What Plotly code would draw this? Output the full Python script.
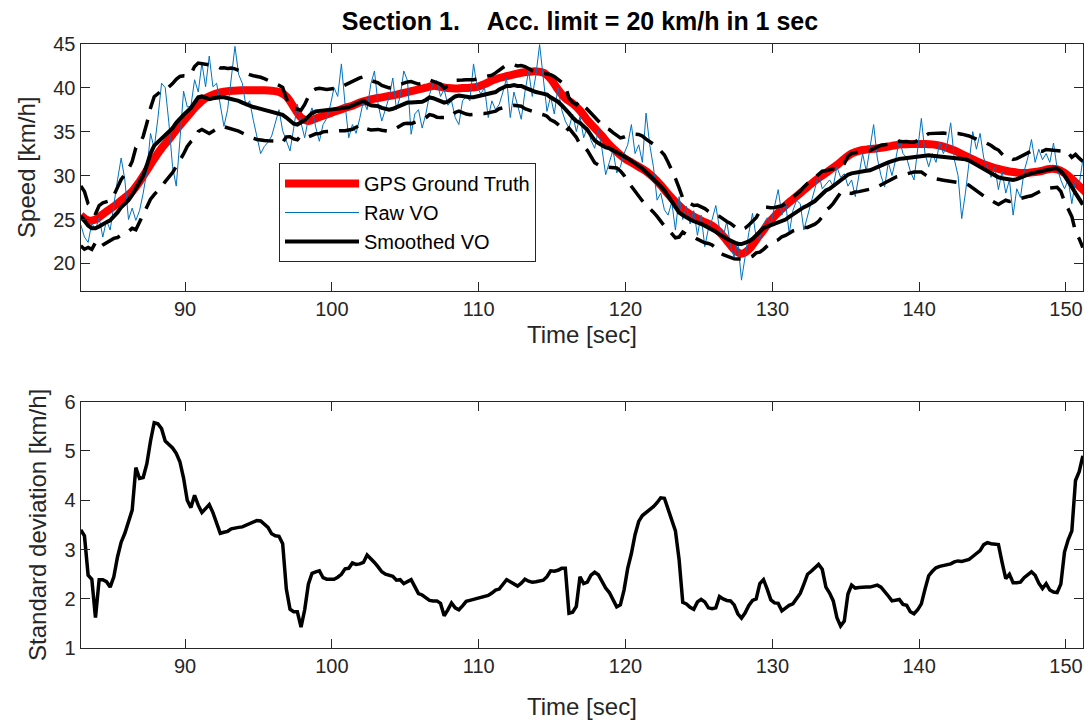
import numpy as np
import plotly.graph_objects as go

# ---- time bases -------------------------------------------------------------
T0 = 82.9
t_vo = np.round(T0 + 0.25 * np.arange(274), 3)     # VO samples (0.25 s)
t_gps = np.round(T0 + 0.5 * np.arange(138), 3)     # GPS samples (0.5 s)

# ---- GPS ground truth speed [km/h] -------------------------------------------
gps_speed = [
    25.5, 24.9, 25.0, 25.6, 26.2, 26.8, 27.5, 28.2, 29.3, 30.6,   # 82.9 ..
    31.9, 33.1, 34.1, 35.2, 36.2, 37.2, 38.1, 38.8, 39.2, 39.45,  # 87.9 ..
    39.6, 39.65, 39.7, 39.7, 39.7, 39.7, 39.65, 39.5, 39.0, 37.8, # 92.9 ..
    36.6, 36.2, 36.5, 36.8, 37.1, 37.4, 37.7, 37.95, 38.3, 38.55, # 97.9 ..
    38.75, 38.9, 39.05, 39.2, 39.4, 39.6, 39.8, 40.0, 40.2, 40.1, # 102.9 ..
    39.95, 39.9, 39.95, 40.0, 40.1, 40.4, 40.8, 41.1, 41.3, 41.5, # 107.9 ..
    41.7, 41.8, 41.85, 41.7, 41.0, 39.8, 38.8, 38.2, 37.4, 36.3,  # 112.9 ..
    35.4, 34.5, 33.5, 32.7, 32.0, 31.5, 31.0, 30.5, 29.8, 28.9,   # 117.9 ..
    27.9, 27.0, 26.2, 25.6, 25.1, 24.7, 24.3, 23.6, 22.6, 21.6,   # 122.9 ..
    21.1, 21.6, 22.7, 23.8, 24.9, 25.8, 26.6, 27.3, 28.0, 28.7,   # 127.9 ..
    29.4, 30.0, 30.6, 31.2, 31.9, 32.5, 32.8, 32.95, 33.05, 33.15,# 132.9 ..
    33.3, 33.45, 33.55, 33.6, 33.6, 33.6, 33.55, 33.4, 33.15, 32.85, # 137.9 ..
    32.45, 32.05, 31.65, 31.3, 31.0, 30.75, 30.55, 30.4, 30.3, 30.3, # 142.9 ..
    30.4, 30.55, 30.75, 30.7, 30.3, 29.6, 28.8, 28.0,             # 147.9 ..
]

# ---- raw visual-odometry speed [km/h] ----------------------------------------
raw_vo = [
    24.4, 23.0, 22.4, 24.6,   # 82.9
    23.8, 25.2, 23.0, 24.9,   # 83.9
    23.8, 26.8, 29.5, 32.0,   # 84.9
    29.5, 25.0, 26.3, 24.9,   # 85.9
    26.0, 28.0, 30.5, 34.8,   # 86.9
    33.1, 36.5, 40.5, 40.0,   # 87.9
    36.0, 31.0, 28.8, 34.0,   # 88.9
    39.6, 37.8, 37.9, 40.9,   # 89.9
    39.5, 42.8, 40.1, 43.6,   # 90.9
    40.1, 40.5, 38.0, 35.6,   # 91.9
    37.5, 41.0, 44.7, 41.5,   # 92.9
    40.5, 37.9, 38.5, 36.3,   # 93.9
    34.5, 32.5, 33.3, 33.8,   # 94.9
    34.5, 36.0, 37.5, 35.1,   # 95.9
    34.0, 32.8, 35.4, 38.1,   # 96.9
    36.0, 34.3, 36.5, 37.7,   # 97.9
    35.5, 33.9, 35.8, 36.5,   # 98.9
    38.0, 40.0, 39.0, 42.7,   # 99.9
    38.1, 34.3, 35.8, 34.8,   # 100.9
    36.5, 38.5, 37.5, 40.4,   # 101.9
    41.9, 38.1, 36.2, 37.5,   # 102.9
    38.9, 41.1, 37.5, 39.0,   # 103.9
    41.9, 40.8, 34.7, 37.0,   # 104.9
    37.5, 35.4, 37.0, 39.2,   # 105.9
    40.5, 40.8, 39.0, 39.8,   # 106.9
    38.0, 38.5, 36.6, 35.8,   # 107.9
    38.5, 39.0, 38.5, 42.7,   # 108.9
    40.0, 39.3, 40.0, 36.6,   # 109.9
    38.5, 37.5, 38.1, 39.5,   # 110.9
    41.1, 36.6, 39.5, 38.0,   # 111.9
    36.4, 39.5, 41.9, 39.0,   # 112.9
    41.5, 44.9, 41.0, 37.3,   # 113.9
    39.0, 37.0, 40.0, 37.5,   # 114.9
    36.2, 35.4, 37.0, 35.0,   # 115.9
    36.7, 34.3, 35.5, 34.0,   # 116.9
    33.1, 35.2, 33.0, 30.1,   # 117.9
    31.5, 32.9, 30.3, 31.0,   # 118.9
    32.5, 33.5, 35.8, 32.5,   # 119.9
    33.5, 31.5, 37.1, 33.5,   # 120.9
    31.0, 27.2, 28.0, 26.1,   # 121.9
    25.5, 27.0, 23.8, 27.6,   # 122.9
    25.0, 26.5, 24.5, 26.0,   # 123.9
    23.2, 25.5, 21.9, 24.0,   # 124.9
    25.0, 26.6, 24.0, 23.0,   # 125.9
    24.8, 22.0, 20.7, 22.5,   # 126.9
    18.1, 21.0, 23.5, 25.7,   # 127.9
    23.0, 22.8, 24.5, 25.2,   # 128.9
    24.5, 26.5, 28.4, 25.5,   # 129.9
    27.0, 23.4, 26.0, 27.2,   # 130.9
    26.8, 23.8, 25.5, 27.0,   # 131.9
    28.5, 30.3, 28.5, 29.0,   # 132.9
    29.5, 28.8, 31.0, 29.8,   # 133.9
    30.2, 28.8, 29.5, 27.6,   # 134.9
    30.0, 32.5, 30.5, 33.0,   # 135.9
    35.8, 32.0, 30.0, 28.7,   # 136.9
    31.5, 30.0, 31.8, 34.1,   # 137.9
    32.5, 32.0, 30.5, 29.5,   # 138.9
    33.0, 36.5, 32.5, 31.0,   # 139.9
    32.5, 31.5, 33.8, 32.5,   # 140.9
    33.5, 36.0, 31.8, 30.0,   # 141.9
    25.1, 28.0, 31.5, 35.0,   # 142.9
    33.0, 34.8, 32.0, 31.0,   # 143.9
    29.8, 31.0, 28.4, 30.5,   # 144.9
    28.0, 29.5, 25.5, 28.5,   # 145.9
    27.5, 30.5, 32.0, 34.1,   # 146.9
    31.5, 33.0, 31.8, 32.5,   # 147.9
    31.5, 33.7, 30.8, 29.5,   # 148.9
    28.5, 29.5, 26.8, 29.5,   # 149.9
    29.0, 31.8,               # 150.9
]

# ---- smoothed VO speed [km/h] -------------------------------------------------
smoothed_vo = [
    25.4, 24.9, 24.3, 24.0,   # 82.9
    24.0, 24.2, 24.5, 24.7,   # 83.9
    24.9, 25.3, 25.8, 26.4,   # 84.9
    26.8, 27.2, 27.8, 28.5,   # 85.9
    29.1, 30.0, 31.2, 32.5,   # 86.9
    33.4, 33.8, 34.2, 34.5,   # 87.9
    34.9, 35.4, 36.0, 36.5,   # 88.9
    36.9, 37.3, 37.7, 38.3,   # 89.9
    38.9, 39.0, 38.8, 38.7,   # 90.9
    38.8, 38.9, 38.9, 38.9,   # 91.9
    38.8, 38.8, 38.7, 38.5,   # 92.9
    38.3, 38.1, 37.95, 37.8,  # 93.9
    37.7, 37.6, 37.5, 37.4,   # 94.9
    37.3, 37.2, 37.0, 36.9,   # 95.9
    36.6, 36.2, 35.9, 35.8,   # 96.9
    36.0, 36.3, 36.7, 37.1,   # 97.9
    37.3, 37.35, 37.4, 37.4,  # 98.9
    37.45, 37.5, 37.5, 37.6,  # 99.9
    37.7, 37.8, 38.0, 38.2,   # 100.9
    38.4, 38.5, 38.2, 38.0,   # 101.9
    37.95, 37.9, 37.7, 37.6,  # 102.9
    37.5, 37.6, 37.8, 38.0,   # 103.9
    38.2, 38.3, 38.3, 38.3,   # 104.9
    38.3, 38.4, 38.6, 38.9,   # 105.9
    38.8, 38.6, 38.5, 38.3,   # 106.9
    38.4, 38.7, 39.0, 39.1,   # 107.9
    39.0, 38.95, 38.9, 38.9,  # 108.9
    39.0, 39.1, 39.1, 39.2,   # 109.9
    39.3, 39.5, 39.8, 40.0,   # 110.9
    40.2, 40.2, 40.3, 40.2,   # 111.9
    40.2, 40.0, 39.8, 39.6,   # 112.9
    39.5, 39.4, 39.3, 39.2,   # 113.9
    38.9, 38.7, 38.4, 38.0,   # 114.9
    37.6, 37.1, 36.6, 36.2,   # 115.9
    36.0, 35.6, 35.2, 34.6,   # 116.9
    34.0, 33.7, 33.4, 33.2,   # 117.9
    33.1, 32.9, 32.7, 32.4,   # 118.9
    32.2, 31.95, 31.7, 31.4,  # 119.9
    31.1, 30.8, 30.4, 30.1,   # 120.9
    29.7, 29.3, 28.8, 28.3,   # 121.9
    27.7, 27.0, 26.3, 25.8,   # 122.9
    25.5, 25.2, 25.0, 24.8,   # 123.9
    24.7, 24.5, 24.3, 24.1,   # 124.9
    23.9, 23.6, 23.3, 23.0,   # 125.9
    22.8, 22.6, 22.4, 22.2,   # 126.9
    22.2, 22.3, 22.5, 22.8,   # 127.9
    23.2, 23.6, 24.0, 24.2,   # 128.9
    24.35, 24.45, 24.6, 24.8, # 129.9
    25.0, 25.3, 25.6, 25.8,   # 130.9
    26.1, 26.4, 26.6, 26.8,   # 131.9
    27.1, 27.5, 27.9, 28.3,   # 132.9
    28.5, 28.8, 29.1, 29.5,   # 133.9
    29.8, 30.1, 30.25, 30.35, # 134.9
    30.4, 30.5, 30.55, 30.6,  # 135.9
    30.8, 31.0, 31.2, 31.35,  # 136.9
    31.5, 31.65, 31.8, 31.9,  # 137.9
    31.95, 32.0, 32.05, 32.1, # 138.9
    32.2, 32.3, 32.3, 32.3,   # 139.9
    32.25, 32.2, 32.2, 32.15, # 140.9
    32.1, 32.1, 32.05, 32.0,  # 141.9
    31.95, 31.85, 31.7, 31.45,# 142.9
    31.2, 31.0, 30.75, 30.5,  # 143.9
    30.3, 30.0, 29.8, 29.7,   # 144.9
    29.6, 29.55, 29.5, 29.6,  # 145.9
    29.8, 29.95, 30.1, 30.25, # 146.9
    30.35, 30.45, 30.55, 30.65, # 147.9
    30.75, 30.8, 30.8, 30.5,  # 148.9
    30.0, 29.4, 28.7, 28.0,   # 149.9
    27.4, 26.7,               # 150.9
]

# ---- standard deviation of the smoothed VO [km/h] ----------------------------
std_vo = [
    3.40, 3.28, 2.48, 2.40,   # 82.9
    1.62, 2.39, 2.39, 2.35,   # 83.9
    2.24, 2.45, 2.85, 3.15,   # 84.9
    3.33, 3.55, 3.80, 4.66,   # 85.9
    4.44, 4.46, 4.74, 5.20,   # 86.9
    5.57, 5.55, 5.45, 5.20,   # 87.9
    5.12, 5.06, 4.95, 4.78,   # 88.9
    4.45, 4.00, 3.85, 4.10,   # 89.9
    3.90, 3.75, 3.83, 3.91,   # 90.9
    3.75, 3.55, 3.33, 3.35,   # 91.9
    3.37, 3.42, 3.44, 3.45,   # 92.9
    3.46, 3.49, 3.53, 3.56,   # 93.9
    3.59, 3.58, 3.52, 3.45,   # 94.9
    3.32, 3.28, 3.27, 3.12,   # 95.9
    2.20, 1.79, 1.74, 1.74,   # 96.9
    1.43, 1.78, 2.30, 2.52,   # 97.9
    2.55, 2.57, 2.43, 2.40,   # 98.9
    2.40, 2.40, 2.44, 2.50,   # 99.9
    2.61, 2.62, 2.73, 2.70,   # 100.9
    2.71, 2.74, 2.89, 2.82,   # 101.9
    2.74, 2.65, 2.55, 2.50,   # 102.9
    2.48, 2.46, 2.38, 2.39,   # 103.9
    2.31, 2.35, 2.39, 2.25,   # 104.9
    2.11, 2.08, 2.02, 1.97,   # 105.9
    1.96, 1.96, 1.91, 1.66,   # 106.9
    1.78, 1.92, 1.82, 1.78,   # 107.9
    1.86, 1.95, 1.97, 1.99,   # 108.9
    2.01, 2.03, 2.05, 2.07,   # 109.9
    2.12, 2.18, 2.20, 2.30,   # 110.9
    2.39, 2.35, 2.30, 2.26,   # 111.9
    2.32, 2.40, 2.36, 2.34,   # 112.9
    2.35, 2.37, 2.38, 2.45,   # 113.9
    2.57, 2.56, 2.58, 2.62,   # 114.9
    2.62, 1.71, 1.73, 1.85,   # 115.9
    2.45, 2.31, 2.34, 2.48,   # 116.9
    2.54, 2.49, 2.36, 2.22,   # 117.9
    2.13, 1.98, 1.84, 1.88,   # 118.9
    2.18, 2.62, 2.92, 3.30,   # 119.9
    3.57, 3.69, 3.75, 3.80,   # 120.9
    3.87, 3.95, 4.05, 4.04,   # 121.9
    3.82, 3.64, 3.38, 2.80,   # 122.9
    1.93, 1.90, 1.83, 1.79,   # 123.9
    1.94, 1.99, 1.94, 1.82,   # 124.9
    1.80, 1.82, 2.05, 2.00,   # 125.9
    1.97, 1.96, 1.88, 1.70,   # 126.9
    1.61, 1.72, 1.87, 1.97,   # 127.9
    2.00, 2.31, 2.39, 2.20,   # 128.9
    1.98, 1.92, 1.91, 1.76,   # 129.9
    1.82, 1.87, 1.90, 2.00,   # 130.9
    2.11, 2.30, 2.50, 2.56,   # 131.9
    2.63, 2.70, 2.60, 2.24,   # 132.9
    2.12, 1.96, 1.62, 1.45,   # 133.9
    1.55, 2.10, 2.28, 2.22,   # 134.9
    2.23, 2.24, 2.24, 2.24,   # 135.9
    2.26, 2.28, 2.24, 2.16,   # 136.9
    2.06, 1.96, 1.98, 1.99,   # 137.9
    1.89, 1.87, 1.74, 1.70,   # 138.9
    1.78, 1.90, 2.20, 2.47,   # 139.9
    2.56, 2.63, 2.66, 2.68,   # 140.9
    2.69, 2.71, 2.75, 2.77,   # 141.9
    2.76, 2.78, 2.80, 2.86,   # 142.9
    2.92, 2.98, 3.10, 3.14,   # 143.9
    3.12, 3.11, 3.10, 2.74,   # 144.9
    2.41, 2.50, 2.33, 2.33,   # 145.9
    2.34, 2.43, 2.49, 2.55,   # 146.9
    2.48, 2.32, 2.21, 2.31,   # 147.9
    2.18, 2.14, 2.13, 2.30,   # 148.9
    2.95, 3.20, 3.38, 4.40,   # 149.9
    4.58, 4.90,               # 150.9
]

# ---- axis ticks -----------------------------------------------------------------
time_ticks = [90, 100, 110, 120, 130, 140, 150]
speed_ticks = [20, 25, 30, 35, 40, 45]
std_ticks = [1, 2, 3, 4, 5, 6]

sm = np.array(smoothed_vo)
sd = np.array(std_vo)
upper = sm + sd
lower = sm - sd

FONT = "Liberation Sans, Arial, Helvetica, sans-serif"
AXC = "#262626"

fig = go.Figure()
fig.add_trace(go.Scatter(x=t_gps, y=gps_speed, mode="lines", name="GPS Ground Truth",
                         line=dict(color="#FF0000", width=8, shape="spline"),
                         xaxis="x", yaxis="y"))
fig.add_trace(go.Scatter(x=t_vo, y=raw_vo, mode="lines", name="Raw VO",
                         line=dict(color="#0072BD", width=1),
                         xaxis="x", yaxis="y"))
fig.add_trace(go.Scatter(x=t_vo, y=smoothed_vo, mode="lines", name="Smoothed VO",
                         line=dict(color="#000000", width=4),
                         xaxis="x", yaxis="y"))
for band in (upper, lower):
    fig.add_trace(go.Scatter(x=t_vo, y=band, mode="lines", showlegend=False,
                             line=dict(color="#000000", width=3.5, dash="20px,11px"),
                             xaxis="x", yaxis="y"))
fig.add_trace(go.Scatter(x=t_vo, y=std_vo, mode="lines", showlegend=False,
                         line=dict(color="#000000", width=3.5),
                         xaxis="x2", yaxis="y2"))

W, H = 1092, 724
x0, x1 = 80.5 / W, 1083 / W
TITLE_FONT = dict(family=FONT, size=24, color=AXC)

common_x = dict(
    range=[82.88, 151.16], tickvals=time_ticks, ticks="inside", ticklen=9,
    tickcolor=AXC, showline=True, linecolor=AXC, linewidth=1, mirror="ticks",
    showgrid=False, zeroline=False, domain=[x0, x1], automargin=False,
    tickfont=dict(family=FONT, size=20, color=AXC),
)
common_y = dict(
    ticks="inside", ticklen=9, tickcolor=AXC, showline=True, linecolor=AXC,
    linewidth=1, mirror="ticks", showgrid=False, zeroline=False, automargin=False,
    tickfont=dict(family=FONT, size=20, color=AXC),
)

# x-axis titles sit at fixed heights under each panel
x_titles = [
    dict(text="Time [sec]", x=(x0 + x1) / 2, y=1 - 334 / H),
    dict(text="Time [sec]", x=(x0 + x1) / 2, y=1 - 706 / H),
]
annotations = [
    dict(text=a["text"], x=a["x"], y=a["y"], xref="paper", yref="paper",
         xanchor="center", yanchor="middle", showarrow=False, font=TITLE_FONT)
    for a in x_titles
]

fig.update_layout(
    width=W, height=H,
    margin=dict(l=0, r=0, t=0, b=0, autoexpand=False),
    paper_bgcolor="white", plot_bgcolor="white",
    font=dict(family=FONT, color=AXC),
    title=dict(text="<b>Section 1.    Acc. limit = 20 km/h in 1 sec</b>",
               x=580 / W, xanchor="center", y=1 - 21 / H, yanchor="middle",
               font=dict(family=FONT, size=25, color="#000000")),
    xaxis=dict(common_x, anchor="y"),
    yaxis=dict(common_y, range=[16.9, 45], tickvals=speed_ticks,
               domain=[1 - 290.7 / H, 1 - 43.7 / H], anchor="x",
               title=dict(text="Speed [km/h]", font=TITLE_FONT, standoff=10)),
    xaxis2=dict(common_x, anchor="y2"),
    yaxis2=dict(common_y, range=[1, 6], tickvals=std_ticks,
                domain=[1 - 648.3 / H, 1 - 401.5 / H], anchor="x2",
                title=dict(text="Standard deviation [km/h]", font=TITLE_FONT, standoff=10)),
    annotations=annotations,
    legend=dict(x=279 / W, y=1 - 163 / H, xanchor="left", yanchor="top",
                bgcolor="white", bordercolor=AXC, borderwidth=1,
                font=dict(family=FONT, size=20, color="#000000"),
                itemwidth=74, tracegroupgap=0),
    showlegend=True,
)

fig.write_html("out.html")
